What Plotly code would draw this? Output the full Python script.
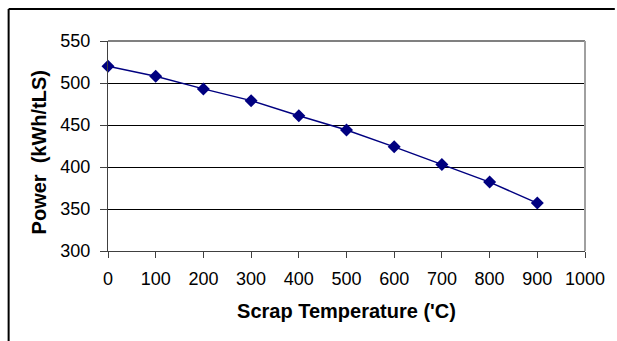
import plotly.graph_objects as go

temps = [0, 100, 200, 300, 400, 500, 600, 700, 800, 900]
power = [520, 508, 493, 479, 461, 444, 424, 403, 382, 357]
x_ticks = [0, 100, 200, 300, 400, 500, 600, 700, 800, 900, 1000]
y_ticks = [300, 350, 400, 450, 500, 550]

W, H = 617, 341
L, R, T, B = 108, 29, 41, 90
pw, ph = W - L - R, H - T - B

def px(x):
    return (x - L) / pw

def py(y):
    return (H - B - y) / ph

fig = go.Figure()
fig.add_trace(go.Scatter(
    x=temps, y=power, mode="lines+markers",
    line=dict(color="#000080", width=1.5),
    marker=dict(symbol="diamond", size=10, color="#000080"),
    showlegend=False, cliponaxis=False,
))

font = "Liberation Sans, Arial, sans-serif"
fig.update_layout(
    width=W, height=H,
    margin=dict(l=L, r=R, t=T, b=B),
    paper_bgcolor="white", plot_bgcolor="white",
    font=dict(family=font, color="black"),
    xaxis=dict(
        range=[0, 1000], tickvals=x_ticks, ticks="outside", ticklen=6,
        tickcolor="#404040", showline=True, linecolor="#404040", linewidth=1,
        showgrid=False, zeroline=False, tickfont=dict(size=18),
        ticklabelstandoff=5,
        title=dict(text="<b>Scrap Temperature ('C)</b>", font=dict(size=20), standoff=16),
    ),
    yaxis=dict(
        range=[300, 550], tickvals=y_ticks, ticks="outside", ticklen=7,
        tickcolor="#404040", showline=True, linecolor="#404040", linewidth=1,
        showgrid=True, gridcolor="black", gridwidth=1, zeroline=False,
        tickfont=dict(size=18), ticklabelstandoff=6,
    ),
    annotations=[
        dict(text="<b>Power  (kWh/tLS)</b>", xref="paper", yref="paper",
             x=px(39), y=py(152), textangle=-90, showarrow=False,
             font=dict(size=20), xanchor="center", yanchor="middle"),
    ],
    shapes=[
        dict(type="line", xref="paper", yref="paper", x0=0, x1=1, y0=1, y1=1,
             line=dict(color="#808080", width=2), layer="above"),
        dict(type="line", xref="paper", yref="paper", x0=1, x1=1, y0=0, y1=1,
             line=dict(color="#a0a0a0", width=2), layer="above"),
        dict(type="line", xref="paper", yref="paper", x0=px(8), x1=px(618), y0=py(9), y1=py(9),
             line=dict(color="black", width=2)),
        dict(type="line", xref="paper", yref="paper", x0=px(8), x1=px(8), y0=py(9), y1=py(342),
             line=dict(color="black", width=2)),
    ],
)

fig.write_html("out.html")
